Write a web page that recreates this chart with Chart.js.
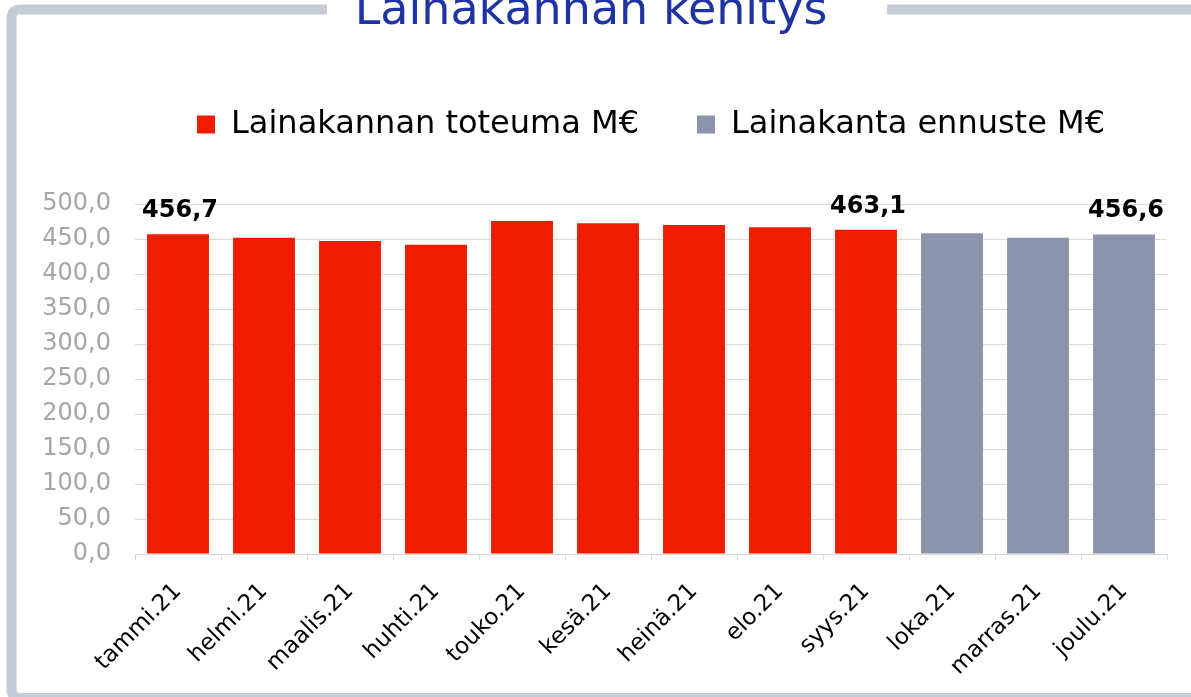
<!DOCTYPE html>
<html>
<head>
<meta charset="utf-8">
<title>Lainakannan kehitys</title>
<script src="https://cdn.jsdelivr.net/npm/chart.js@4.4.1/dist/chart.umd.min.js"></script>
<style>
  html, body { margin: 0; padding: 0; background: #ffffff; }
  #wrap { width: 1191px; height: 697px; }
</style>
</head>
<body>
<div id="wrap"><canvas id="c" width="1191" height="697"></canvas></div>
<script>
// ---- data ----
const titleText = 'Lainakannan kehitys';
const categories = ['tammi.21', 'helmi.21', 'maalis.21', 'huhti.21', 'touko.21', 'kesä.21',
                    'heinä.21', 'elo.21', 'syys.21', 'loka.21', 'marras.21', 'joulu.21'];
const actualName = 'Lainakannan toteuma M€';
const forecastName = 'Lainakanta ennuste M€';
const actualValues = [456.7, 451.9, 447.1, 441.9, 475.7, 472.4, 470.0, 466.7, 463.1, null, null, null];
const forecastValues = [null, null, null, null, null, null, null, null, null, 458.1, 451.9, 456.6];
const labeledIndices = [0, 8, 11];
const yTickMin = 0;
const yTickMax = 500;
const yTickStep = 50;

// ---- styles ----
const RED = '#EE1D00';
const GREY = '#8A94AD';
const FRAME = '#C5CAD7';
const FONT = "'DejaVu Sans', Verdana, sans-serif";
const LEGEND_HEIGHT = 153.5;

const fmt = v => v.toFixed(1).replace('.', ',');

const framePlugin = {
  id: 'frame',
  beforeLayout(chart) {
    const lg = chart.legend;
    if (lg && !lg._fixedHeight) {
      const origFit = lg.fit.bind(lg);
      lg.fit = function () { origFit(); this.height = LEGEND_HEIGHT; };
      lg._fixedHeight = true;
    }
  },
  beforeDraw(chart) {
    const ctx = chart.ctx;
    ctx.save();
    ctx.fillStyle = '#ffffff';
    ctx.fillRect(0, 0, chart.width, chart.height);
    ctx.strokeStyle = FRAME;
    ctx.lineWidth = 10;
    const x0 = 11.5, y0 = 9.5, x1 = 1300, y1 = 698, r = 8;
    ctx.beginPath();
    ctx.moveTo(x0 + r, y0);
    ctx.lineTo(x1, y0);
    ctx.lineTo(x1, y1);
    ctx.lineTo(x0 + r, y1);
    ctx.arcTo(x0, y1, x0, y1 - r, r);
    ctx.lineTo(x0, y0 + r);
    ctx.arcTo(x0, y0, x0 + r, y0, r);
    ctx.closePath();
    ctx.stroke();
    // gap for the title
    ctx.fillStyle = '#ffffff';
    ctx.fillRect(327, 0, 560, 20);
    ctx.restore();
  }
};

const valueLabelPlugin = {
  id: 'valueLabels',
  afterDatasetsDraw(chart) {
    const ctx = chart.ctx;
    ctx.save();
    ctx.font = 'bold 24px ' + FONT;
    ctx.fillStyle = '#000000';
    ctx.textAlign = 'center';
    ctx.textBaseline = 'alphabetic';
    chart.data.datasets.forEach((ds, di) => {
      const meta = chart.getDatasetMeta(di);
      labeledIndices.forEach(i => {
        const v = ds.data[i];
        if (v === null || v === undefined) return;
        const el = meta.data[i];
        ctx.fillText(fmt(v), el.x + 2, el.y - 17);
      });
    });
    ctx.restore();
  }
};

Chart.defaults.font.family = FONT;

new Chart(document.getElementById('c'), {
  type: 'bar',
  data: {
    labels: categories,
    datasets: [
      { label: actualName, data: actualValues, backgroundColor: RED, borderColor: RED, borderWidth: 0 },
      { label: forecastName, data: forecastValues, backgroundColor: GREY, borderColor: GREY, borderWidth: 0 }
    ]
  },
  options: {
    responsive: false,
    devicePixelRatio: 1,
    animation: false,
    datasets: { bar: { grouped: false, barPercentage: 0.72, categoryPercentage: 1.0 } },
    layout: { padding: { left: 15, right: 24, top: 0, bottom: 0 } },
    plugins: {
      title: {
        display: true,
        text: titleText,
        color: '#1F34A2',
        font: { size: 46, weight: 'normal', lineHeight: 1 },
        padding: { top: -11, bottom: 15.5 }
      },
      legend: {
        display: true,
        position: 'top',
        fullSize: false,
        labels: {
          color: '#000000',
          font: { size: 32 },
          boxWidth: 18,
          boxHeight: 18,
          padding: 58
        }
      },
      tooltip: { enabled: false }
    },
    scales: {
      x: {
        grid: { display: true, drawOnChartArea: false, drawTicks: true, tickLength: 6, color: '#D9D9D9', offset: true },
        border: { display: true, color: '#D9D9D9' },
        ticks: {
          color: '#000000',
          font: { size: 23 },
          minRotation: 45,
          maxRotation: 45,
          autoSkip: false,
          padding: 18
        },
        afterFit: s => { s.height = 143; }
      },
      y: {
        min: yTickMin,
        max: yTickMax,
        grid: { color: '#D9D9D9', drawTicks: false },
        border: { display: false },
        ticks: {
          stepSize: yTickStep,
          color: '#A6A6A6',
          font: { size: 24 },
          padding: 24,
          callback: v => fmt(v)
        },
        afterFit: s => { s.width = 120; }
      }
    }
  },
  plugins: [framePlugin, valueLabelPlugin]
});
</script>
</body>
</html>
